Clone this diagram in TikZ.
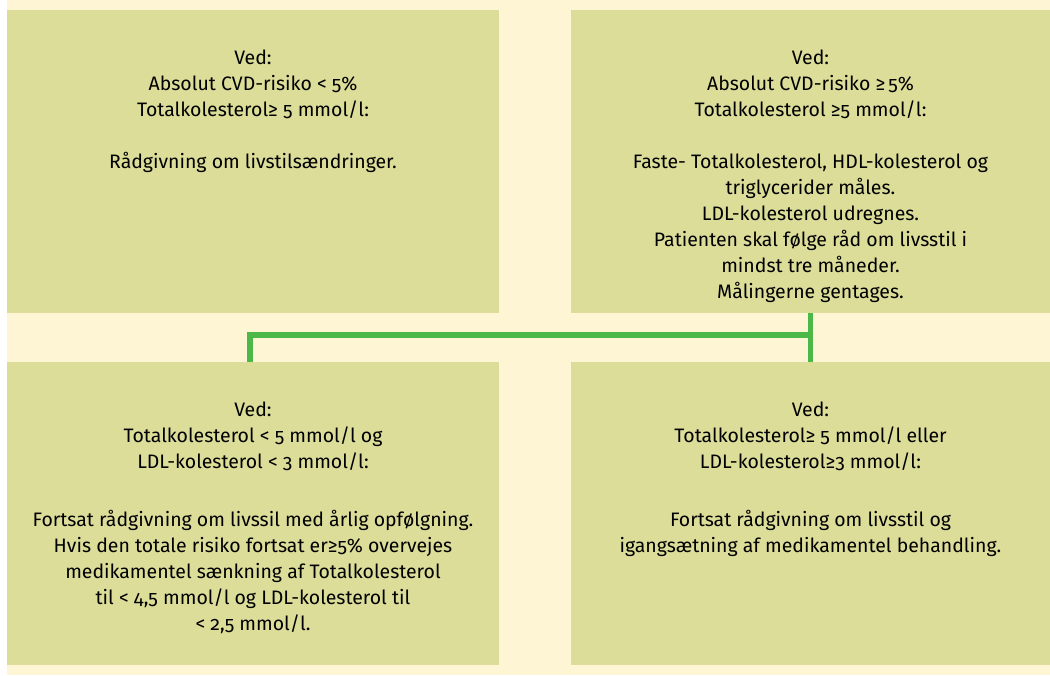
\documentclass[tikz,border=0pt]{standalone}
\usepackage{fontspec}
\setmainfont{Fira Sans}[RawFeature={+onum;+pnum}]
\usetikzlibrary{positioning}
\definecolor{creme}{RGB}{254,245,212}
\definecolor{boksgul}{RGB}{220,221,153}
\definecolor{linjegron}{RGB}{76,184,72}
\tikzset{
 boks/.style={fill=boksgul,draw=none,inner sep=0pt,minimum height=227.25pt},
 tekst/.style={anchor=north,align=center,inner sep=0pt,font=\fontsize{14.6}{19.5}\selectfont},
 forbindelse/.style={draw=linjegron,line width=4pt}
}
\begin{document}
\begin{tikzpicture}[x=0.75pt,y=-0.75pt]
\useasboundingbox (0,0) rectangle (1050,675);
\fill[creme] (7,0) rectangle (1050,675);
% de fire kasser
\node[boks,minimum width=369pt] (vo) at (253,161.5) {};
\node[boks,minimum width=359.25pt] (ho) at (810.5,161.5) {};
\node[boks,minimum width=369pt] (vn) at (253,513.5) {};
\node[boks,minimum width=359.25pt] (hn) at (810.5,513.5) {};
% tekster
\node[tekst,below=30pt of vo.north] (tvo) {Ved:\\Absolut CVD-risiko < 5\%\\Totalkolesterol≥ 5 mmol/l:\\[19.5pt]Rådgivning om livstilsændringer.};
\node[tekst,below=30pt of ho.north] (tho) {Ved:\\Absolut CVD-risiko ≥\,5\%\\Totalkolesterol ≥5 mmol/l:\\[19.5pt]Faste- Totalkolesterol, HDL-kolesterol og\\triglycerider måles.\\LDL-kolesterol udregnes.\\Patienten skal følge råd om livsstil i\\mindst tre måneder.\\Målingerne gentages.};
\node[tekst,below=30pt of vn.north] (tvn) {Ved:\\Totalkolesterol < 5 mmol/l og\\LDL-kolesterol < 3 mmol/l:\\[24pt]Fortsat rådgivning om livssil med årlig opfølgning.\\Hvis den totale risiko fortsat er≥5\% overvejes\\medikamentel sænkning af Totalkolesterol\\til < 4,5 mmol/l og LDL-kolesterol til\\< 2,5 mmol/l.};
\node[tekst,below=30pt of hn.north] (thn) {Ved:\\Totalkolesterol≥ 5 mmol/l eller\\LDL-kolesterol≥3 mmol/l:\\[24pt]Fortsat rådgivning om livsstil og\\igangsætning af medikamentel behandling.};
% forbindelser
\coordinate (knude) at (810.5,335);
\draw[forbindelse] (ho.south) -- (hn.north);
\draw[forbindelse] (knude) -| ([xshift=-2.25pt]vn.north);
\end{tikzpicture}
\end{document}
